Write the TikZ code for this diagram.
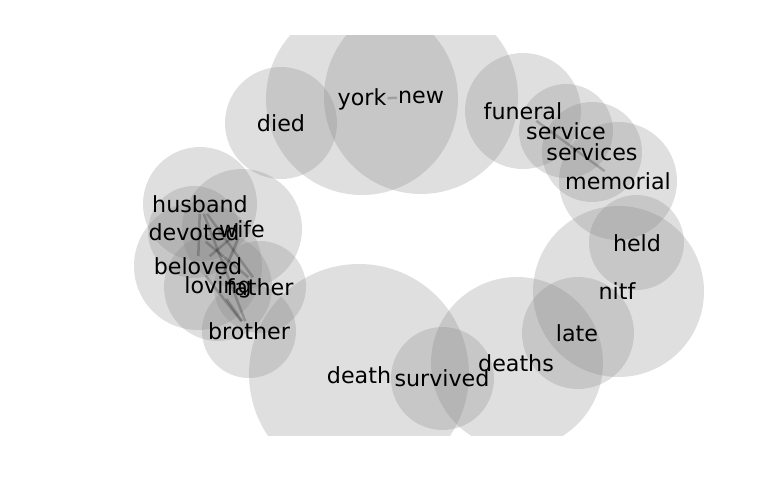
\documentclass[tikz,border=0pt]{standalone}
\usepackage{fontspec}
\setmainfont{DejaVu Sans}
\pgfdeclarelayer{bg}
\pgfsetlayers{bg,main}
\begin{document}
\begin{tikzpicture}[x=1pt,y=-1pt,
  bubble/.style={fill=black!50, fill opacity=0.25, draw=none},
  word/.style={font=\fontsize{22.2}{24}\selectfont, inner sep=1pt, text=black},
  link/.style={draw=black, draw opacity=0.2, line width=2.5pt}]
\useasboundingbox (0,0) rectangle (768,500);
% words
\node[word] (died) at (281,123) {died};
\node[word] (york) at (362,99) {york};
\node[word] (new) at (421,97) {new};
\node[word] (funeral) at (523,111) {funeral};
\node[word] (service) at (566,131) {service};
\node[word] (services) at (592,152) {services};
\node[word] (memorial) at (618,181) {memorial};
\node[word] (held) at (637,243) {held};
\node[word] (nitf) at (617,291) {nitf};
\node[word] (late) at (577,333) {late};
\node[word] (deaths) at (516,363) {deaths};
\node[word] (survived) at (442,378) {survived};
\node[word] (death) at (359,375) {death};
\node[word] (husband) at (200,204) {husband};
\node[word] (devoted) at (194,232) {devoted};
\node[word] (wife) at (242,229) {wife};
\node[word] (beloved) at (198,266) {beloved};
\node[word] (loving) at (218,287) {loving};
\node[word] (father) at (260,287) {father};
\node[word] (brother) at (249,331) {brother};
\begin{pgfonlayer}{bg}
\begin{scope}
\clip (0,36) rectangle (768,435);
\fill[bubble] (281,123) circle[radius=56];
\fill[bubble] (362,99) circle[radius=96];
\fill[bubble] (421,97) circle[radius=97];
\fill[bubble] (523,111) circle[radius=58];
\fill[bubble] (566,131) circle[radius=47];
\fill[bubble] (592,152) circle[radius=50];
\fill[bubble] (618,181) circle[radius=59];
\fill[bubble] (636.5,242.5) circle[radius=47.5];
\fill[bubble] (618.5,291.5) circle[radius=85.5];
\fill[bubble] (578,333) circle[radius=56];
\fill[bubble] (517,363) circle[radius=86];
\fill[bubble] (442.5,378.5) circle[radius=51.5];
\fill[bubble] (359,374) circle[radius=110];
\fill[bubble] (200,204) circle[radius=57];
\fill[bubble] (194,232) circle[radius=46];
\fill[bubble] (242,229) circle[radius=60];
\fill[bubble] (198,266) circle[radius=64];
\fill[bubble] (218,287) circle[radius=54];
\fill[bubble] (260,287) circle[radius=46];
\fill[bubble] (249,331) circle[radius=47];
\end{scope}
\draw[link] (york) -- (new);
\draw[link] (funeral) -- (memorial);
\draw[link] (husband) -- (beloved);
\draw[link] (husband) -- (brother);
\draw[link] (husband) -- (father);
\draw[link] (wife) -- (loving);
\draw[link] (wife) -- (beloved);
\draw[link] (devoted) -- (father);
\draw[link] (loving) -- (brother);
\draw[link] (beloved) -- (brother);
\end{pgfonlayer}
\end{tikzpicture}
\end{document}
